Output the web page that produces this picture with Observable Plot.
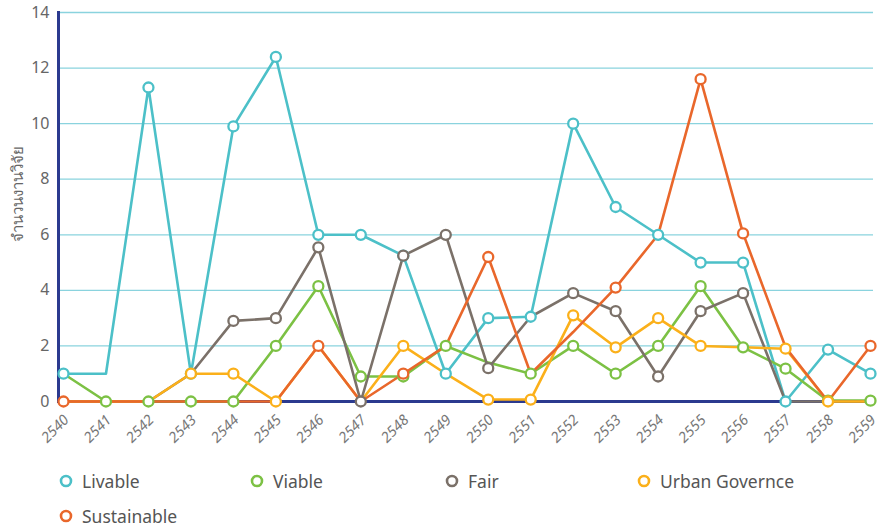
<!DOCTYPE html>
<html>
<head>
<meta charset="utf-8">
<script src="https://cdn.jsdelivr.net/npm/d3@7"></script>
<script src="https://cdn.jsdelivr.net/npm/@observablehq/plot@0.6"></script>
<style>
  body { margin: 0; background: #fff; font-family: "Noto Sans", "Open Sans", sans-serif; overflow: hidden; }
  #chart { width: 882px; height: 452px; }
  .legend { position: relative; width: 882px; height: 75px; }
  .item { position: absolute; display: flex; align-items: center; font-size: 17.5px; line-height: 20px; height: 20px; color: #555; }
  .item svg { margin-right: 8px; }
</style>
</head>
<body>
<div id="chart"></div>
<div class="legend" id="legend"></div>
<script>
const years = [2540,2541,2542,2543,2544,2545,2546,2547,2548,2549,2550,2551,2552,2553,2554,2555,2556,2557,2558,2559];
const seriesNames = ["Livable", "Viable", "Fair", "Urban Governce", "Sustainable"];
const livable      = [1, 1, 11.3, 1, 9.9, 12.4, 6, 6, 5.25, 1, 3, 3.05, 10, 7, 6, 5, 5, 0, 1.87, 1];
const viable       = [1, 0, 0, 0, 0, 2, 4.15, 0.9, 0.9, 2, 1.4, 1, 2, 1, 2, 4.15, 1.95, 1.18, 0.03, 0.03];
const fair         = [0, 0, 0, 1, 2.9, 3, 5.55, 0, 5.25, 6, 1.2, 3.05, 3.9, 3.25, 0.9, 3.25, 3.9, 0, 0, 0];
const urban        = [0, 0, 0, 1, 1, 0, 2, 0, 2, 1, 0.07, 0.07, 3.1, 1.95, 3, 2, 1.95, 1.9, 0, 0];
const sustainable  = [0, 0, 0, 0, 0, 0, 2, 0, 1, 2, 5.2, 1, 2.5, 4.1, 6, 11.6, 6.05, 1.95, 0, 2];
// markers: which points show a circle (1) in the reference
const livableMk     = [1,0,1,1,1,1,1,1,1,1,1,1,1,1,1,1,1,1,1,1];
const viableMk      = [0,1,1,1,1,1,1,1,1,1,0,1,1,1,1,1,1,1,1,1];
const fairMk        = [0,0,0,0,1,1,1,1,1,1,1,0,1,1,1,1,1,0,0,0];
const urbanMk       = [0,0,0,1,1,1,0,0,1,0,1,1,1,1,1,1,0,1,1,0];
const sustainableMk = [1,0,0,0,0,0,1,0,1,0,1,0,0,1,0,1,1,0,0,1];
const yTicks = [0, 2, 4, 6, 8, 10, 12, 14];
const colors = ["#4cc0c8", "#7cc144", "#7b7169", "#fbb01a", "#e9672b"];

const values = [livable, viable, fair, urban, sustainable];
const marks = [livableMk, viableMk, fairMk, urbanMk, sustainableMk];
const data = [];
seriesNames.forEach((s, i) => years.forEach((y, j) => data.push({series: s, year: y, value: values[i][j], mark: marks[i][j]})));

const plot = Plot.plot({
  width: 882,
  height: 452,
  marginTop: 12,
  marginBottom: 51,
  marginLeft: 58,
  marginRight: 9,
  style: {fontFamily: "'Noto Sans', sans-serif", color: "#666"},
  x: {domain: [2540, 2559], range: [63, 870], label: null},
  y: {domain: [0, 14], ticks: yTicks, label: null},
  color: {domain: seriesNames, range: colors},
  marks: [
    Plot.ruleY(yTicks.filter(d => d > 0), {stroke: "#8ad3de", strokeWidth: 1.3}),
    Plot.axisY({ticks: yTicks, tickSize: 0, tickPadding: 9, fontSize: 16, fill: "#666", label: null}),
    Plot.text(["จำนวนงานวิจัย"], {frameAnchor: "left", textAnchor: "middle", dx: -40, dy: -13, rotate: -90, fontSize: 15, fill: "#666"}),
    Plot.axisX({ticks: years, tickFormat: d => String(d), tickSize: 0, tickRotate: -45, tickPadding: 7, dx: 3, dy: 9, fontSize: 14.5, fill: "#777", fontStyle: "italic", label: null, textAnchor: "end"}),
    Plot.ruleY([0], {stroke: "#2b3a8f", strokeWidth: 3}),
    Plot.frame({anchor: "left", stroke: "#2b3a8f", strokeWidth: 3}),
    Plot.line(data, {x: "year", y: "value", z: "series", stroke: "series", strokeWidth: 2.6}),
    Plot.dot(data.filter(d => d.mark), {x: "year", y: "value", stroke: "series", fill: "white", r: 5, strokeWidth: 2.3})
  ]
});
document.getElementById("chart").appendChild(plot);

// legend item centers relative to legend box (legend starts at y=452)
const legendPos = [[58, 29], [249, 29], [444, 29], [636, 29], [58, 64]];
const legend = document.getElementById("legend");
seriesNames.forEach((s, i) => {
  const div = document.createElement("div");
  div.className = "item";
  div.style.left = legendPos[i][0] + "px";
  div.style.top = (legendPos[i][1] - 10) + "px";
  div.innerHTML = `<svg width="16" height="16"><circle cx="8" cy="8" r="5" fill="white" stroke="${colors[i]}" stroke-width="2.6"/></svg><span>${s}</span>`;
  legend.appendChild(div);
});
</script>
</body>
</html>
